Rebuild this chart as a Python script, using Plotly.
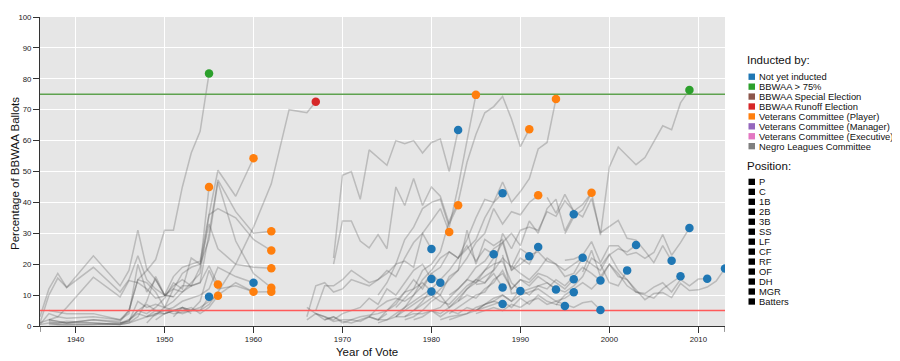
import plotly.graph_objects as go

# ---------------- data ----------------
ELECTION_YEARS = [1936, 1937, 1938, 1939, 1942, 1945, 1946, 1947, 1948, 1949, 1950,
                  1951, 1952, 1953, 1954, 1955, 1956, 1958, 1960, 1962, 1964, 1966,
                  1967, 1968, 1969, 1970, 1971, 1972, 1973, 1974, 1975, 1976, 1977,
                  1978, 1979, 1980, 1981, 1982, 1983, 1984, 1985, 1986, 1987, 1988,
                  1989, 1990, 1991, 1992, 1993, 1994, 1995, 1996, 1997, 1998, 1999,
                  2000, 2001, 2002, 2003, 2004, 2005, 2006, 2007, 2008, 2009, 2010,
                  2011, 2012, 2013]

INDUCTED_BY = ["Not yet inducted", "BBWAA > 75%", "BBWAA Special Election",
               "BBWAA Runoff Election", "Veterans Committee (Player)",
               "Veterans Committee (Manager)", "Veterans Committee (Executive)",
               "Negro Leagues Committee"]
POSITIONS = ["P", "C", "1B", "2B", "3B", "SS", "LF", "CF", "RF", "OF", "DH", "MGR", "Batters"]

# each line: (first ballot year, how inducted, % of ballots on consecutive elections)
l01 = (1936, "BBWAA > 75%", [1, 2, 1.5, 1, 2, 1.5, 5, 15, 18, 21.5, 31, 31, 45, 56, 63, 81.7])
l02 = (1936, "Veterans Committee (Player)", [3, 12, 17, 12.5, 22.7, 13, 18, 31, 18.5, 15, 10, 9.5, 13, 13, 19, 45])
l03 = (1936, "Veterans Committee (Player)", [1, 10, 15.5, 12.5, 19, 11, 15, 22.7, 15, 12, 10, 16, 19, 20, 21, 36, 50.4, 42, 54.3])
l04 = (1937, "Veterans Committee (Player)", [2, 3, 6, 15.8, 9.4, 14.7, 14, 12, 9, 9.7, 13, 15, 13, 14, 30, 47.3, 37, 30, 30.7])
l05 = (1937, "Veterans Committee (Player)", [5, 4.5, 4, 4, 2, 5, 15, 14, 11, 6, 8, 11, 14, 17, 36, 38, 35, 28, 24.4])
l06 = (1937, "Veterans Committee (Player)", [1.5, 1, 1, 1, 0.5, 1, 3, 8, 16, 10, 12, 17, 19, 20, 28, 46.6, 27.5, 17, 12.4])
l07 = (1937, "Veterans Committee (Player)", [1, 0.5, 0.5, 0.5, 0.5, 2, 5, 4, 6, 9, 14, 12, 22, 20, 33, 25, 20, 19, 18.7])
l08 = (1937, "Not yet inducted", [0.5, 0.3, 0.3, 0.5, 1, 2, 4, 3, 4, 5, 4, 4.5, 5, 5, 9.5])
l09 = (1936, "Veterans Committee (Player)", [0.5, 1, 1, 1.5, 1, 0.5, 1, 2, 3, 3.5, 6, 5, 5, 6, 4, 6, 9.8])
l10 = (1945, "Veterans Committee (Player)", [1, 1.5, 8, 6, 7, 6, 12, 11, 13, 14, 19.5, 13.4])
l11 = (1948, "Not yet inducted", [3, 5, 5, 6, 8, 9, 10, 12, 19, 16, 14])
l12 = (1949, "Veterans Committee (Player)", [2, 4, 5, 4, 5, 8, 18, 12, 13, 11.1])
l13 = (1951, "Veterans Committee (Player)", [3, 6, 5, 6, 8, 10, 14, 11, 11.1])
l14 = (1948, "BBWAA Runoff Election", [1, 4, 4, 5, 6, 5, 5, 7, 11, 20, 32, 46, 70, 69, 72.6])
l15 = (1936, None, [0.5, 4, 3, 2.5, 3, 2, 4, 20, 11, 15, 10, 9.5])
l16 = (1937, None, [2, 1.5, 1, 2, 1, 1.5, 5, 7, 5, 4, 5, 6, 4])
l17 = (1969, "Not yet inducted", [22, 48.8, 50, 41, 57, 54.6, 52, 60, 59, 60, 56, 59.4, 60.5, 50, 63.4])
l18 = (1969, "Veterans Committee (Player)", [20, 34, 34, 27.5, 25.3, 29.6, 25, 45, 39, 47.7, 39, 45, 42, 33, 39.1])
l19 = (1974, "Veterans Committee (Player)", [10, 14, 20, 28, 32, 38, 40, 41, 32, 45, 60, 74.8])
l20 = (1967, "Veterans Committee (Player)", [5, 13, 13, 15, 18, 16, 14, 15, 17, 20, 21, 19, 30, 34, 38, 30.4])
l21 = (1966, "Not yet inducted", [3, 13, 14, 11, 12, 15, 14, 13, 15, 18, 16, 22, 27, 30, 24.9])
l22 = (1966, "Not yet inducted", [2, 4, 3, 2, 4, 5, 6, 9, 7, 12, 10, 14, 18, 20, 15.2])
l23 = (1967, "Not yet inducted", [4, 3, 1.5, 2, 2, 3, 3.5, 4, 5, 7, 11, 12, 14, 11.2])
l24 = (1968, "Not yet inducted", [2, 3, 1.5, 1, 2, 3, 6, 8, 9, 8, 10, 13, 17, 14])
l25 = (1976, "Veterans Committee (Player)", [6, 9, 12, 18, 20, 24, 34, 40, 53, 62, 69, 71, 74.3, 67, 58, 63.7])
l26 = (1977, "Veterans Committee (Player)", [3, 5, 8, 12, 15, 18, 22, 25, 28, 35, 40, 46.6, 40, 43.5, 47.7, 57.3, 59.4, 73.5])
l27 = (1976, "Not yet inducted", [3, 6, 10, 15, 18, 22, 24, 22, 28, 35, 41, 40, 43])
l28 = (1978, "Veterans Committee (Player)", [5, 7, 9, 12, 15, 18, 22, 27, 30, 38, 33, 37, 36, 40, 42.3])
l29 = (1985, "Veterans Committee (Player)", [13.4, 13.9, 18.2, 30, 25, 31, 32, 31, 37, 35.5, 40.5, 37.2, 39.3, 43.1])
l30 = (1995, "BBWAA > 75%", [29.8, 35.3, 37.6, 43.1, 29.4, 51.5, 57.9, 55.1, 52.2, 54.5, 59.5, 64.8, 63.5, 72.2, 76.4])
l31 = (1982, "Not yet inducted", [10, 12, 15, 14, 18, 22, 27, 30, 26, 34, 30, 38, 41, 30.7, 36.2])
l32 = (1993, "Not yet inducted", [41.6, 36.5, 42.6, 37.2, 35.3, 41.2, 30.2, 32.1, 34.2, 28.4, 27.8, 24.3, 20.5, 26.0, 21.1])
l33 = (1995, "Not yet inducted", [21.3, 21.7, 22.9, 27.3, 20.5, 26, 26, 23, 23.8, 21.9, 23.8, 29.6, 22.9, 27, 31.7])
l34 = (1989, "Not yet inducted", [19.5, 17, 15, 18, 22, 20, 18, 20, 22, 20, 18, 23, 25, 24, 26.2])
l35 = (1988, "Not yet inducted", [23, 10.5, 11, 12, 13, 14, 12, 11, 13, 16, 22, 20, 14, 13, 18])
l36 = (1994, "Not yet inducted", [6.8, 10, 12, 14, 12, 15, 20, 17, 13, 11, 10, 9, 12, 14, 16.1])
l37 = (1997, "Not yet inducted", [17.5, 24.5, 16, 20, 16, 15, 11, 10.5, 12.6, 14, 11, 15, 13, 15.2, 15.3])
l38 = (1999, "Not yet inducted", [19.3, 23.2, 18.1, 14.8, 11.7, 8.5, 10.5, 10.8, 9.2, 13.8, 11.5, 11.7, 12.6, 14.5, 18.6])
l39 = (1985, "Not yet inducted", [5, 7, 8, 10, 8, 12, 10, 13, 12, 15, 13, 16, 19, 17, 14.7])
l40 = (1985, "Not yet inducted", [4, 5, 6, 5, 7, 6, 8, 9, 7, 8, 7, 6, 7.5, 8, 5.2])
l41 = (1983, "Not yet inducted", [8, 12, 14, 16, 18, 22, 19, 25, 23, 24, 21, 20, 16, 17, 22.1])
l42 = (1982, "Not yet inducted", [4, 6, 8, 10, 11, 15, 17, 12, 15, 14, 17, 16, 14, 12, 15.1])
l43 = (1982, "Not yet inducted", [2, 3, 4, 6, 7, 9, 10, 8, 10, 11, 12, 10, 8, 9, 10.9])
l44 = (1981, "Not yet inducted", [2, 3, 3.5, 4, 5, 6, 7, 8, 6, 9, 7, 10, 8, 7, 6.5])
l45 = (1980, "Not yet inducted", [5, 4, 6, 8, 10, 9, 12, 14, 18, 12, 15, 13, 16, 14, 11.8])
l46 = (1978, "Not yet inducted", [2, 3, 5, 6, 9, 12, 15, 19, 21, 25, 27, 18, 22, 20, 25.6])
l47 = (1977, "Not yet inducted", [2, 3, 5, 8, 10, 16, 18, 31, 20, 28, 26, 28, 18, 20, 22.6])
l48 = (1976, "Not yet inducted", [3, 5, 7, 9, 10, 8, 7, 10, 13, 15, 18, 20, 21, 14, 11.3])
l49 = (1974, "Not yet inducted", [1, 2, 3, 3, 4, 4, 5, 3, 5, 4, 6, 5, 7, 8, 7.1])
l50 = (1974, "Not yet inducted", [2, 2, 4, 6, 8, 10, 12, 10, 6, 9, 12, 15, 14, 17, 12.5])
l51 = (1973, "Not yet inducted", [3, 2, 5, 8, 11, 15, 12, 17, 19, 24, 22, 26, 21, 25, 23.2])
l52 = (1966, None, [6, 4, 2, 3, 1, 2, 1.5, 3, 2, 4])

LINES = [l01, l02, l03, l04, l05, l06, l07, l08, l09, l10, l11, l12, l13, l14, l15, l16,
         l17, l18, l19, l20, l21, l22, l23, l24, l25, l26, l27, l28, l29, l30, l31, l32,
         l33, l34, l35, l36, l37, l38, l39, l40, l41, l42, l43, l44, l45, l46, l47, l48,
         l49, l50, l51, l52]

COLORS = {"Not yet inducted": "#1f77b4", "BBWAA > 75%": "#2ca02c",
          "BBWAA Special Election": "#8c564b", "BBWAA Runoff Election": "#d62728",
          "Veterans Committee (Player)": "#ff7f0e", "Veterans Committee (Manager)": "#9467bd",
          "Veterans Committee (Executive)": "#e377c2", "Negro Leagues Committee": "#7f7f7f"}

# ---------------- figure ----------------
OFF = 8                      # page body margin of the browser
W, H = 900 - OFF, 361 - OFF  # figure fills the window exactly
ML, MR, MT, MB = 40 - OFF, 175, 13 - OFF, 35
PW, PH = W - ML - MR, H - MT - MB
X0, X1 = 1936, 2013
FONT = "Liberation Sans, Arial, Helvetica, sans-serif"


def px(xp):
    """window pixel x -> paper coordinate"""
    return (xp - OFF - ML) / PW


def py(yp):
    """window pixel y -> paper coordinate"""
    return (H - MB - (yp - OFF)) / PH


def years_of(start, n):
    i = ELECTION_YEARS.index(start)
    return ELECTION_YEARS[i:i + n]


fig = go.Figure()

for start, status, vals in LINES:
    fig.add_trace(go.Scatter(x=years_of(start, len(vals)), y=vals, mode="lines",
                             line=dict(color="rgba(70,70,70,0.27)", width=1.5),
                             hoverinfo="skip", showlegend=False))

# threshold lines
fig.add_trace(go.Scatter(x=[X0, X1], y=[75, 75], mode="lines",
                         line=dict(color="#5ea24f", width=1.5), hoverinfo="skip", showlegend=False))
fig.add_trace(go.Scatter(x=[X0, X1], y=[5, 5], mode="lines",
                         line=dict(color="#ff5a5a", width=1.5), hoverinfo="skip", showlegend=False))

# end points
for status in INDUCTED_BY:
    xs, ys = [], []
    for start, st, vals in LINES:
        if st == status:
            xs.append(years_of(start, len(vals))[-1])
            ys.append(vals[-1])
    if xs:
        fig.add_trace(go.Scatter(x=xs, y=ys, mode="markers",
                                 marker=dict(color=COLORS[status], size=8.5, line=dict(width=0)),
                                 name=status, showlegend=False))

shapes = []
annotations = []

# outer domain ticks (d3 style)
for xv in (X0, X1):
    shapes.append(dict(type="line", xref="x", yref="paper", x0=xv, x1=xv, y0=0, y1=-6 / PH,
                       line=dict(color="#333", width=1)))

# legend: Inducted by
annotations.append(dict(text="Inducted by:", xref="paper", yref="paper", x=px(745), y=py(57),
                        xanchor="left", yanchor="middle", showarrow=False,
                        font=dict(size=11.5, color="#111", family=FONT)))
for i, name in enumerate(INDUCTED_BY):
    yc = 73.5 + i * 10.05
    shapes.append(dict(type="rect", xref="paper", yref="paper",
                       x0=px(748.5), x1=px(755), y0=py(yc + 3.2), y1=py(yc - 3.2),
                       fillcolor=COLORS[name], line=dict(width=0)))
    annotations.append(dict(text=name, xref="paper", yref="paper", x=px(757), y=py(yc),
                            xanchor="left", yanchor="middle", showarrow=False,
                            font=dict(size=9.4, color="#111", family=FONT)))

# legend: Position
annotations.append(dict(text="Position:", xref="paper", yref="paper", x=px(745), y=py(164),
                        xanchor="left", yanchor="middle", showarrow=False,
                        font=dict(size=11.5, color="#111", family=FONT)))
for i, name in enumerate(POSITIONS):
    yc = 180 + i * 10.1
    shapes.append(dict(type="rect", xref="paper", yref="paper",
                       x0=px(748.5), x1=px(755), y0=py(yc + 3.2), y1=py(yc - 3.2),
                       fillcolor="#000", line=dict(width=0)))
    annotations.append(dict(text=name, xref="paper", yref="paper", x=px(757), y=py(yc),
                            xanchor="left", yanchor="middle", showarrow=False,
                            font=dict(size=9.4, color="#111", family=FONT)))

# axis titles
annotations.append(dict(text="Year of Vote", xref="paper", yref="paper", x=px(367), y=py(352),
                        xanchor="center", yanchor="middle", showarrow=False,
                        font=dict(size=11.5, color="#111", family=FONT)))
annotations.append(dict(text="Percentage of BBWAA Ballots", xref="paper", yref="paper",
                        x=px(15), y=py(172), xanchor="center", yanchor="middle", textangle=-90,
                        showarrow=False, font=dict(size=11.5, color="#111", family=FONT)))

fig.update_layout(
    width=W, height=H,
    margin=dict(l=ML, r=MR, t=MT, b=MB, pad=0),
    paper_bgcolor="white", plot_bgcolor="#e6e6e6",
    showlegend=False,
    shapes=shapes, annotations=annotations,
    font=dict(family=FONT, size=8, color="#222"),
    xaxis=dict(range=[X0, X1], tickvals=[1940, 1950, 1960, 1970, 1980, 1990, 2000, 2010],
               showgrid=True, gridcolor="white", gridwidth=1, zeroline=False,
               showline=True, linecolor="#333", linewidth=1,
               ticks="outside", ticklen=6, tickcolor="#333", tickwidth=1,
               tickfont=dict(size=7.8, color="#222", family=FONT)),
    yaxis=dict(range=[0, 100], tickvals=[0, 10, 20, 30, 40, 50, 60, 70, 80, 90, 100],
               showgrid=True, gridcolor="white", gridwidth=1, zeroline=False,
               showline=True, linecolor="#333", linewidth=1,
               ticks="outside", ticklen=6, tickcolor="#333", tickwidth=1,
               tickfont=dict(size=7.8, color="#222", family=FONT)),
)

fig.write_html("out.html")
